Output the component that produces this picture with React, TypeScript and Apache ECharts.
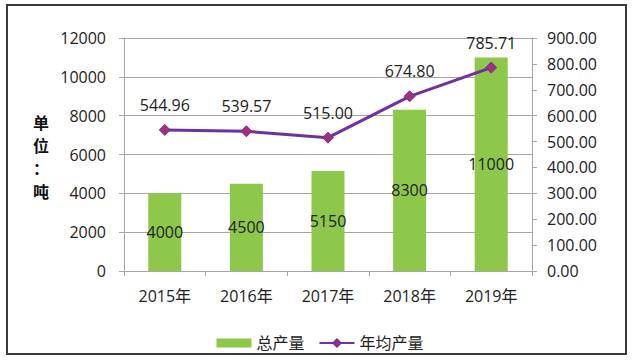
import React, { useEffect, useRef } from "react";
import * as echarts from "echarts";

const categories = ["2015年", "2016年", "2017年", "2018年", "2019年"];
const totalOutput = [4000, 4500, 5150, 8300, 11000];
const avgOutput = [544.96, 539.57, 515.0, 674.8, 785.71];
const leftTicks = { min: 0, max: 12000, interval: 2000 };
const rightTicks = { min: 0, max: 900, interval: 100 };

const FONT = "'Open Sans', 'Noto Sans CJK SC', sans-serif";

export default function App() {
  const ref = useRef<HTMLDivElement>(null);
  useEffect(() => {
    if (!ref.current) return;
    const chart = echarts.init(ref.current, undefined, { renderer: "svg" });
    chart.setOption({
      animation: false,
      backgroundColor: "#ffffff",
      textStyle: { fontFamily: FONT },
      grid: { left: 124, right: 108, top: 38, bottom: 91 },
      legend: {
        left: "center",
        top: 330,
        itemWidth: 35,
        itemHeight: 9,
        itemGap: 14,
        textStyle: { fontSize: 16, color: "#222", fontFamily: FONT },
        data: [{ name: "总产量", icon: "rect" }, { name: "年均产量" }],
      },
      xAxis: {
        type: "category",
        data: categories,
        axisLine: { show: true, lineStyle: { color: "#A6A6A6" } },
        axisTick: { show: true, length: 5, lineStyle: { color: "#A6A6A6" } },
        axisLabel: { fontSize: 16, color: "#222", margin: 17 },
      },
      yAxis: [
        {
          type: "value",
          ...leftTicks,
          axisLine: { show: true, lineStyle: { color: "#A6A6A6" } },
          axisTick: { show: true, length: 5, lineStyle: { color: "#A6A6A6" } },
          splitLine: { show: true, lineStyle: { color: "#A6A6A6" } },
          axisLabel: {
            fontSize: 16,
            color: "#222",
            margin: 18,
            formatter: (v: number) => String(v),
          },
        },
        {
          type: "value",
          ...rightTicks,
          position: "right",
          axisLine: { show: true, lineStyle: { color: "#A6A6A6" } },
          axisTick: { show: true, length: 5, lineStyle: { color: "#A6A6A6" } },
          splitLine: { show: false },
          axisLabel: {
            fontSize: 16,
            color: "#222",
            margin: 15,
            formatter: (v: number) => v.toFixed(2),
          },
        },
      ],
      series: [
        {
          name: "总产量",
          type: "bar",
          data: totalOutput,
          barWidth: 33,
          itemStyle: { color: "#8DC84B" },
          label: {
            show: true,
            position: "inside",
            fontSize: 16,
            color: "#222",
          },
          z: 2,
        },
        {
          name: "年均产量",
          type: "line",
          yAxisIndex: 1,
          data: avgOutput,
          symbol: "diamond",
          symbolSize: 11,
          lineStyle: { color: "#7030A0", width: 3 },
          itemStyle: { color: "#A0307E", borderColor: "#7030A0", borderWidth: 1 },
          label: {
            show: true,
            position: "top",
            distance: 11,
            fontSize: 16,
            color: "#222",
            formatter: (p: any) => Number(p.value).toFixed(2),
          },
          z: 3,
        },
      ],
      graphic: [
        {
          type: "rect",
          shape: { x: 7, y: 5, width: 619, height: 349 },
          style: { fill: "none", stroke: "#3a3a3a", lineWidth: 2 },
          silent: true,
        },
        {
          type: "text",
          left: 33,
          top: 110,
          style: {
            text: "单\n位\n：\n吨",
            fontSize: 16,
            fontWeight: "bold",
            lineHeight: 23,
            fill: "#111",
            fontFamily: "'Noto Sans CJK SC', sans-serif",
          },
        },
      ],
    });
    return () => chart.dispose();
  }, []);
  return (
    <div
      ref={ref}
      style={{ position: "absolute", left: 0, top: 0, width: 640, height: 362 }}
    />
  );
}
